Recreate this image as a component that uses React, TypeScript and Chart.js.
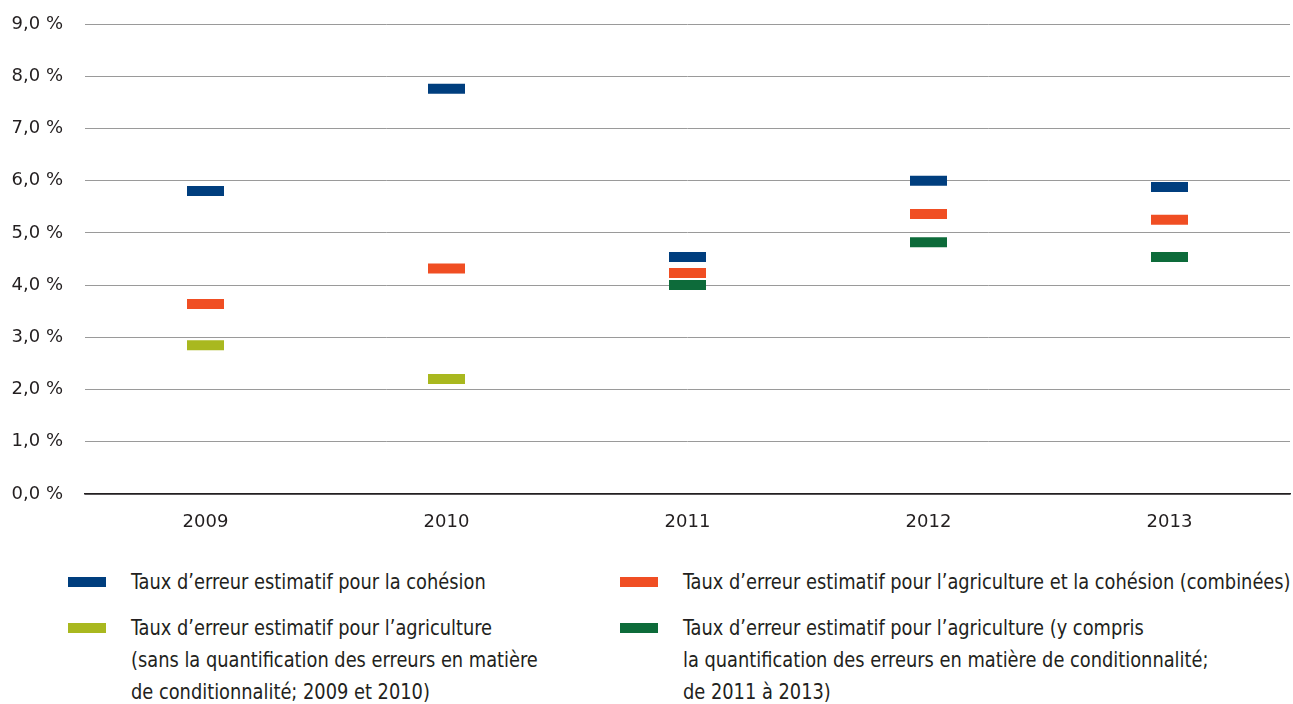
import React, { useEffect, useRef } from "react";
import { Chart, registerables } from "chart.js";

Chart.register(...registerables);

const years = ["2009", "2010", "2011", "2012", "2013"];
const cohesion = [5.8, 7.76, 4.54, 6.0, 5.88];
const combined = [3.64, 4.32, 4.23, 5.36, 5.25];
const agriNoCond = [2.85, 2.2, null, null, null];
const agriWithCond = [null, null, 4.0, 4.82, 4.54];
const yTickValues = [0, 1, 2, 3, 4, 5, 6, 7, 8, 9];

const COLORS = {
  cohesion: "#003e7e",
  combined: "#f04e23",
  agriNoCond: "#a9b81f",
  agriWithCond: "#0d6b3a",
};

const FONT = "'DejaVu Sans'";
const TEXT = "#231f20";

const legendItems = [
  { color: COLORS.cohesion, lines: ["Taux d’erreur estimatif pour la cohésion"], left: 68, top: 566 },
  { color: COLORS.combined, lines: ["Taux d’erreur estimatif pour l’agriculture et la cohésion (combinées)"], left: 620, top: 566 },
  {
    color: COLORS.agriNoCond,
    lines: [
      "Taux d’erreur estimatif pour l’agriculture",
      "(sans la quantification des erreurs en matière",
      "de conditionnalité; 2009 et 2010)",
    ],
    left: 68,
    top: 612,
  },
  {
    color: COLORS.agriWithCond,
    lines: [
      "Taux d’erreur estimatif pour l’agriculture (y compris",
      "la quantification des erreurs en matière de conditionnalité;",
      "de 2011 à 2013)",
    ],
    left: 620,
    top: 612,
  },
];

function makeDataset(label: string, data: (number | null)[], color: string) {
  return {
    label,
    data,
    showLine: false,
    borderColor: color,
    backgroundColor: color,
    pointStyle: "line" as const,
    pointRadius: 18.5,
    pointHoverRadius: 18.5,
    pointBorderWidth: 10,
    pointHoverBorderWidth: 10,
  };
}

export default function App() {
  const ref = useRef<HTMLCanvasElement | null>(null);

  useEffect(() => {
    if (!ref.current) return;
    const chart = new Chart(ref.current, {
      type: "line",
      data: {
        labels: years,
        datasets: [
          makeDataset("Taux d’erreur estimatif pour la cohésion", cohesion, COLORS.cohesion),
          makeDataset("combinées", combined, COLORS.combined),
          makeDataset("agriculture sans conditionnalité", agriNoCond, COLORS.agriNoCond),
          makeDataset("agriculture y compris conditionnalité", agriWithCond, COLORS.agriWithCond),
        ],
      },
      options: {
        animation: false,
        responsive: false,
        maintainAspectRatio: false,
        layout: { autoPadding: false, padding: { top: 24, right: 3, left: 0, bottom: 0 } },
        plugins: {
          legend: { display: false },
          tooltip: { enabled: false },
        },
        scales: {
          x: {
            type: "category",
            offset: true,
            grid: { display: false, drawTicks: false },
            border: { display: true, color: TEXT, width: 1.5 },
            ticks: {
              color: TEXT,
              padding: 18,
              font: { family: FONT, size: 18, style: "condensed" as any },
            },
            afterFit: (scale: any) => {
              scale.height = 51;
            },
          },
          y: {
            min: 0,
            max: 9,
            afterBuildTicks: (scale: any) => {
              scale.ticks = yTickValues.map((v) => ({ value: v }));
            },
            grid: {
              drawTicks: false,
              color: (ctx: any) => (ctx.tick && ctx.tick.value === 0 ? TEXT : "#9a9a9a"),
              lineWidth: (ctx: any) => (ctx.tick && ctx.tick.value === 0 ? 1.5 : 1),
            },
            border: { display: false },
            ticks: {
              color: TEXT,
              padding: 22,
              font: { family: FONT, size: 18, style: "condensed" as any },
              callback: (v: any) => Number(v).toFixed(1).replace(".", ",") + " %",
            },
            afterFit: (scale: any) => {
              scale.width = 85;
              scale.paddingTop = 0;
              scale.paddingBottom = 0;
            },
          },
        },
      },
    });
    return () => chart.destroy();
  }, []);

  return (
    <div
      style={{
        position: "fixed",
        left: 0,
        top: 0,
        width: 1293,
        height: 704,
        background: "#ffffff",
        overflow: "hidden",
        fontFamily: FONT,
        fontStretch: "condensed",
        color: TEXT,
      }}
    >
      <canvas ref={ref} width={1293} height={545} style={{ position: "absolute", left: 0, top: 0, width: 1293, height: 545 }} />
      {legendItems.map((item, i) => (
        <div key={i} style={{ position: "absolute", left: item.left, top: item.top }}>
          <div
            style={{
              position: "absolute",
              left: 0,
              top: 11,
              width: 38,
              height: 10,
              background: item.color,
            }}
          />
          <div
            style={{
              position: "absolute",
              left: 63,
              top: 0,
              fontSize: 22,
              lineHeight: "32px",
              whiteSpace: "nowrap",
              transform: "scaleX(0.9)",
              transformOrigin: "0 0",
            }}
          >
            {item.lines.map((l, j) => (
              <div key={j}>{l}</div>
            ))}
          </div>
        </div>
      ))}
    </div>
  );
}
